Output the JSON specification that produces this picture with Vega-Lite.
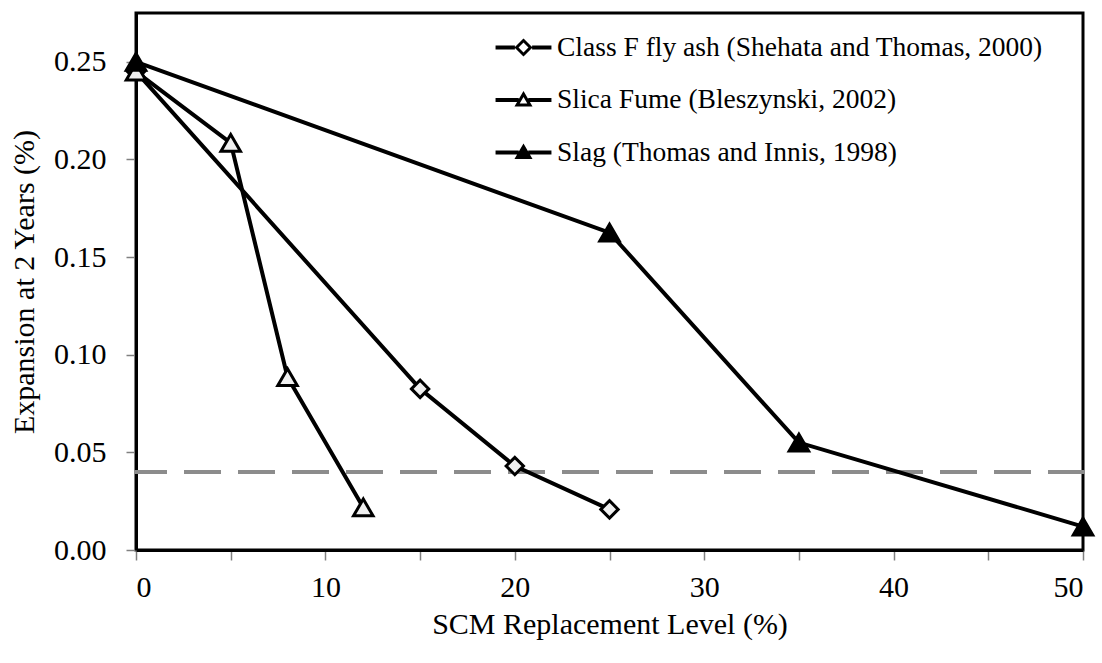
{
  "$schema": "https://vega.github.io/schema/vega-lite/v6.json",
  "autosize": {"type": "none"},
  "padding": {"left": 136, "top": 13, "right": 19, "bottom": 113},
  "width": 947,
  "height": 537,
  "background": "white",
  "config": {
    "view": {"stroke": "black", "strokeWidth": 3},
    "font": "Liberation Serif",
    "axis": {"grid": false, "labelFont": "Liberation Serif", "titleFont": "Liberation Serif", "labelColor": "black", "titleColor": "black", "titleFontWeight": "normal", "labelFontSize": 30, "titleFontSize": 30, "domainColor": "black", "domainWidth": 3, "tickColor": "#808080", "tickWidth": 1.5}
  },
  "data": {
    "values": [
      {"series": "Class F fly ash (Shehata and Thomas, 2000)", "level": 0, "expansion": 0.245},
      {"series": "Class F fly ash (Shehata and Thomas, 2000)", "level": 15, "expansion": 0.0825},
      {"series": "Class F fly ash (Shehata and Thomas, 2000)", "level": 20, "expansion": 0.043},
      {"series": "Class F fly ash (Shehata and Thomas, 2000)", "level": 25, "expansion": 0.0208},
      {"series": "Slica Fume (Bleszynski, 2002)", "level": 0, "expansion": 0.245},
      {"series": "Slica Fume (Bleszynski, 2002)", "level": 5, "expansion": 0.2085},
      {"series": "Slica Fume (Bleszynski, 2002)", "level": 8, "expansion": 0.0885},
      {"series": "Slica Fume (Bleszynski, 2002)", "level": 12, "expansion": 0.0218},
      {"series": "Slag (Thomas and Innis, 1998)", "level": 0, "expansion": 0.25},
      {"series": "Slag (Thomas and Innis, 1998)", "level": 25, "expansion": 0.1625},
      {"series": "Slag (Thomas and Innis, 1998)", "level": 35, "expansion": 0.055},
      {"series": "Slag (Thomas and Innis, 1998)", "level": 50, "expansion": 0.012}
    ]
  },
  "encoding": {
    "x": {
      "field": "level", "type": "quantitative",
      "scale": {"domain": [0, 50], "nice": false, "zero": false},
      "axis": {
        "title": "SCM Replacement Level (%)",
        "values": [0, 5, 10, 15, 20, 25, 30, 35, 40, 45, 50],
        "labelExpr": "datum.value % 10 === 0 ? datum.label : ''",
        "tickSize": 10, "labelPadding": 12, "titlePadding": 7,
        "encode": {"ticks": {"update": {"y": {"value": -6}, "y2": {"signal": "datum.value % 10 === 0 ? 10 : 0"}}}}
      }
    },
    "y": {
      "field": "expansion", "type": "quantitative",
      "scale": {"domain": [0, 0.275], "nice": false},
      "axis": {
        "title": "Expansion at 2 Years (%)",
        "values": [0, 0.05, 0.1, 0.15, 0.2, 0.25],
        "format": ".2f",
        "tickSize": 10, "labelPadding": 20, "titlePadding": 14,
        "encode": {"ticks": {"update": {"x": {"value": 4}, "x2": {"value": -10}}}}
      }
    }
  },
  "layer": [
    {
      "mark": {"type": "rule", "stroke": "#8c8c8c", "strokeWidth": 4, "strokeDash": [33, 21], "strokeCap": "round"},
      "encoding": {"y": {"datum": 0.04}, "x": null}
    },
    {
      "mark": {"type": "line", "stroke": "black", "strokeWidth": 4},
      "encoding": {"detail": {"field": "series"}}
    },
    {
      "transform": [{"filter": "datum.series === 'Class F fly ash (Shehata and Thomas, 2000)'"}],
      "mark": {"type": "point", "shape": "diamond", "filled": true, "fill": "#f0f0f0", "stroke": "black", "strokeWidth": 3, "opacity": 1, "size": 300}
    },
    {
      "transform": [{"filter": "datum.series === 'Slica Fume (Bleszynski, 2002)'"}],
      "mark": {"type": "point", "shape": "triangle-up", "filled": true, "fill": "#f0f0f0", "stroke": "black", "strokeWidth": 3, "opacity": 1, "size": 380}
    },
    {
      "transform": [{"filter": "datum.series === 'Slag (Thomas and Innis, 1998)'"}],
      "mark": {"type": "point", "shape": "triangle-up", "filled": true, "fill": "black", "stroke": "black", "strokeWidth": 3, "opacity": 1, "size": 380}
    },
    {
      "mark": {"type": "point", "filled": true, "fill": "black", "strokeWidth": 0, "opacity": 0},
      "encoding": {
        "shape": {
          "field": "series", "type": "nominal",
          "scale": {"domain": ["Class F fly ash (Shehata and Thomas, 2000)", "Slica Fume (Bleszynski, 2002)", "Slag (Thomas and Innis, 1998)"], "range": [
            "M-1.3,-0.093H-0.40V0.093H-1.3Z M0.40,-0.093H1.3V0.093H0.40Z M0,-0.42L0.42,0L0,0.42L-0.42,0Z M0,-0.23L-0.23,0L0,0.23L0.23,0Z",
            "M-1.3,-0.093H-0.22V0.093H-1.3Z M0.22,-0.093H1.3V0.093H0.22Z M0,-0.42L0.42,0.3L-0.42,0.3Z M0,-0.142L-0.176,0.16L0.176,0.16Z",
            "M-1.3,-0.093H-0.22V0.093H-1.3Z M0.22,-0.093H1.3V0.093H0.22Z M0,-0.42L0.42,0.3L-0.42,0.3Z"
          ]},
          "legend": {
            "title": null, "orient": "none", "legendX": 366, "legendY": 13,
            "padding": 0, "rowPadding": 17.5, "symbolSize": 1849, "labelOffset": 12,
            "labelFont": "Liberation Serif", "labelFontSize": 27.5, "labelColor": "black", "labelLimit": 600,
            "symbolFillColor": "black", "symbolStrokeWidth": 0, "symbolOpacity": 1
          }
        },
        "size": {"value": 1849}
      }
    }
  ]
}
